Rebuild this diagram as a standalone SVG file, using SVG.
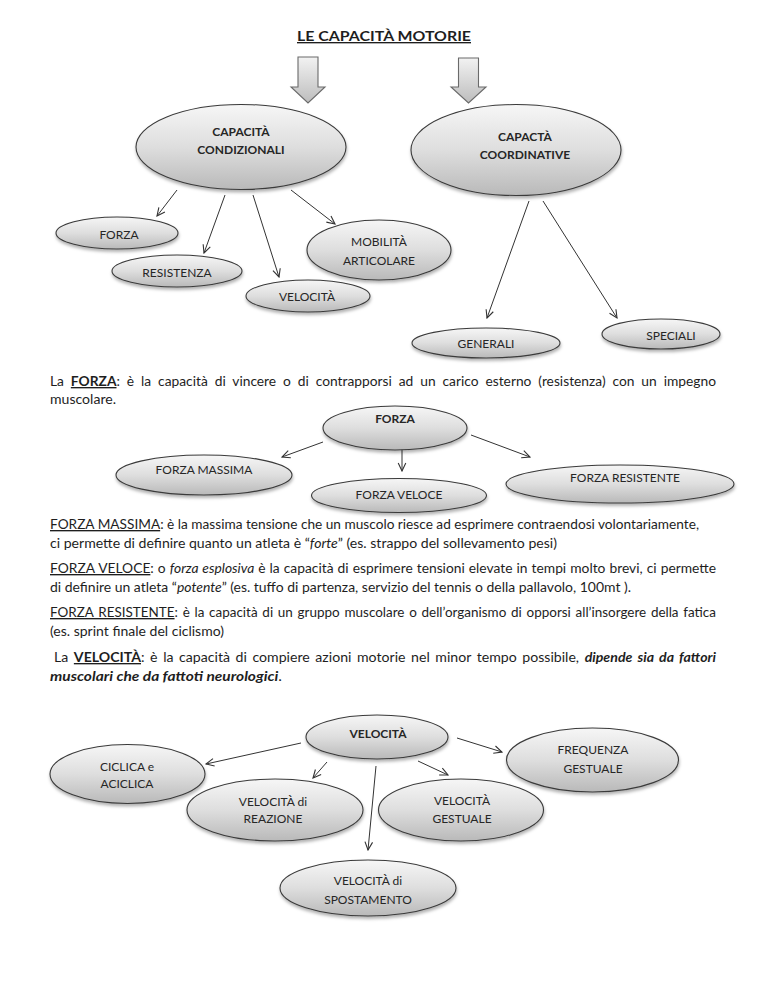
<svg xmlns="http://www.w3.org/2000/svg" width="768" height="994" viewBox="0 0 768 994">
<style>
.nd{fill:url(#g);stroke:#3a3a3a;stroke-width:1.1;filter:url(#sh)}
.lb{font-family:Lato,"Liberation Sans",sans-serif;font-size:12px;fill:#262626;text-anchor:middle}
.bd{font-weight:bold}
.cn line{stroke:#333;stroke-width:1;marker-end:url(#ah)}
.tx{font-family:Lato,"Liberation Sans",sans-serif;font-size:13.5px;fill:#1e1e1e}
.b{font-weight:bold}
.i{font-style:italic}
.u{text-decoration:underline}
.ba{fill:url(#ga);stroke:#6a6a6a;stroke-width:1.1}
</style>
<defs>
<linearGradient id="g" x1="0" y1="0" x2="0" y2="1">
<stop offset="0" stop-color="#f6f6f6"/>
<stop offset="0.5" stop-color="#dedede"/>
<stop offset="1" stop-color="#b9b9b9"/>
</linearGradient>
<linearGradient id="ga" x1="0" y1="0" x2="0" y2="1">
<stop offset="0" stop-color="#f2f2f2"/>
<stop offset="1" stop-color="#bdbdbd"/>
</linearGradient>
<filter id="sh" x="-20%" y="-20%" width="140%" height="160%">
<feDropShadow dx="0.5" dy="2.5" stdDeviation="1.8" flood-color="#000" flood-opacity="0.3"/>
</filter>
<marker id="ah" viewBox="0 0 10 10" refX="9" refY="5" markerWidth="10" markerHeight="10" markerUnits="userSpaceOnUse" orient="auto">
<path d="M1,1.2 L9,5 L1,8.8" fill="none" stroke="#333" stroke-width="1.1"/>
</marker>
</defs>
<rect width="768" height="994" fill="#fff"/>

<text class="tx b u" x="297" y="41" font-size="15" textLength="174" lengthAdjust="spacingAndGlyphs">LE CAPACITÀ MOTORIE</text>

<g id="blockarrows">
<path class="ba" d="M298,57 L318,57 L318,87 L325,87 L308,103 L291,87 L298,87 Z"/>
<path class="ba" d="M458.5,58 L478.5,58 L478.5,87 L486,87 L468.5,103 L451,87 L458.5,87 Z"/>
</g>

<g id="connectors" class="cn">
<line x1="177" y1="190" x2="157" y2="216"/>
<line x1="225" y1="195" x2="204" y2="253"/>
<line x1="253" y1="195" x2="279" y2="277"/>
<line x1="291" y1="190" x2="335" y2="224"/>
<line x1="529" y1="201" x2="487" y2="318"/>
<line x1="543" y1="201" x2="617" y2="318"/>
<line x1="323" y1="442" x2="282" y2="457"/>
<line x1="402" y1="440" x2="402" y2="471"/>
<line x1="471" y1="435" x2="530" y2="457"/>
<line x1="301" y1="743" x2="206" y2="764"/>
<line x1="327" y1="762" x2="313" y2="778"/>
<line x1="376" y1="766" x2="368" y2="850"/>
<line x1="418" y1="761" x2="448" y2="775"/>
<line x1="457" y1="738" x2="502" y2="752"/>
</g>

<g id="n-condizionali"><ellipse class="nd" cx="241" cy="147" rx="105" ry="42.5"/>
<text class="lb bd" x="241" y="136">CAPACITÀ</text><text class="lb bd" x="241" y="154">CONDIZIONALI</text></g>
<g id="n-coordinative"><ellipse class="nd" cx="516" cy="150" rx="105" ry="45.5"/>
<text class="lb bd" x="525" y="141">CAPACTÀ</text><text class="lb bd" x="525" y="159">COORDINATIVE</text></g>
<g id="n-forza1"><ellipse class="nd" cx="117" cy="233" rx="61" ry="16"/>
<text class="lb" x="119" y="239">FORZA</text></g>
<g id="n-resistenza"><ellipse class="nd" cx="177" cy="271" rx="65" ry="16"/>
<text class="lb" x="177" y="277">RESISTENZA</text></g>
<g id="n-velocita1"><ellipse class="nd" cx="308" cy="296" rx="62" ry="16"/>
<text class="lb" x="307" y="301">VELOCITÀ</text></g>
<g id="n-mobilita"><ellipse class="nd" cx="379" cy="250" rx="72" ry="30"/>
<text class="lb" x="379" y="246">MOBILITÀ</text><text class="lb" x="379" y="265">ARTICOLARE</text></g>
<g id="n-generali"><ellipse class="nd" cx="486" cy="343" rx="74" ry="15"/>
<text class="lb" x="486" y="348">GENERALI</text></g>
<g id="n-speciali"><ellipse class="nd" cx="661" cy="334" rx="59" ry="15"/>
<text class="lb" x="671" y="340">SPECIALI</text></g>

<g id="n-forza"><ellipse class="nd" cx="395" cy="428" rx="72" ry="22"/>
<text class="lb bd" x="395" y="423">FORZA</text></g>
<g id="n-fmassima"><ellipse class="nd" cx="204" cy="475" rx="88" ry="20"/>
<text class="lb" x="204" y="474">FORZA MASSIMA</text></g>
<g id="n-fveloce"><ellipse class="nd" cx="399" cy="495.5" rx="87.5" ry="17"/>
<text class="lb" x="399" y="499">FORZA VELOCE</text></g>
<g id="n-fresistente"><ellipse class="nd" cx="620" cy="484" rx="114" ry="19"/>
<text class="lb" x="625" y="482">FORZA RESISTENTE</text></g>

<g id="n-velocita"><ellipse class="nd" cx="377" cy="737" rx="71" ry="22"/>
<text class="lb bd" x="378" y="738">VELOCITÀ</text></g>
<g id="n-ciclica"><ellipse class="nd" cx="127.5" cy="774" rx="77.5" ry="29.5"/>
<text class="lb" x="127" y="771">CICLICA e</text><text class="lb" x="127" y="788">ACICLICA</text></g>
<g id="n-reazione"><ellipse class="nd" cx="275" cy="810" rx="88" ry="31"/>
<text class="lb" x="273" y="806">VELOCITÀ di</text><text class="lb" x="273" y="823">REAZIONE</text></g>
<g id="n-gestuale"><ellipse class="nd" cx="461" cy="810" rx="82.5" ry="31"/>
<text class="lb" x="462" y="805">VELOCITÀ</text><text class="lb" x="462" y="823">GESTUALE</text></g>
<g id="n-frequenza"><ellipse class="nd" cx="592.5" cy="760" rx="86" ry="32"/>
<text class="lb" x="593" y="754">FREQUENZA</text><text class="lb" x="593" y="773">GESTUALE</text></g>
<g id="n-spostamento"><ellipse class="nd" cx="368" cy="888" rx="88" ry="28"/>
<text class="lb" x="368" y="885">VELOCITÀ di</text><text class="lb" x="368" y="904">SPOSTAMENTO</text></g>

<g id="text">
<text class="tx" x="50" y="386" word-spacing="3.3" textLength="666" lengthAdjust="spacingAndGlyphs">La <tspan class="b u">FORZA</tspan>: è la capacità di vincere o di contrapporsi ad un carico esterno (resistenza) con un impegno</text>
<text class="tx" x="50" y="404" textLength="66" lengthAdjust="spacingAndGlyphs">muscolare.</text>
<text class="tx" x="50" y="529" textLength="649" lengthAdjust="spacingAndGlyphs"><tspan class="u">FORZA MASSIMA</tspan>: è la massima tensione che un muscolo riesce ad esprimere contraendosi volontariamente,</text>
<text class="tx" x="50" y="548" textLength="507" lengthAdjust="spacingAndGlyphs">ci permette di definire quanto un atleta è “<tspan class="i">forte</tspan>” (es. strappo del sollevamento pesi)</text>
<text class="tx" x="50" y="573" word-spacing="0.5" textLength="666" lengthAdjust="spacingAndGlyphs"><tspan class="u">FORZA VELOCE</tspan>: o <tspan class="i">forza esplosiva</tspan> è la capacità di esprimere tensioni elevate in tempi molto brevi, ci permette</text>
<text class="tx" x="50" y="592" textLength="581" lengthAdjust="spacingAndGlyphs">di definire un atleta “<tspan class="i">potente</tspan>” (es. tuffo di partenza, servizio del tennis o della pallavolo, 100mt ).</text>
<text class="tx" x="50" y="617" word-spacing="1.3" textLength="666" lengthAdjust="spacingAndGlyphs"><tspan class="u">FORZA RESISTENTE</tspan>: è la capacità di un gruppo muscolare o dell’organismo di opporsi all’insorgere della fatica</text>
<text class="tx" x="50" y="636" textLength="174" lengthAdjust="spacingAndGlyphs">(es. sprint finale del ciclismo)</text>
<text class="tx" x="54" y="662" word-spacing="1.9" textLength="662" lengthAdjust="spacingAndGlyphs">La <tspan class="b u">VELOCITÀ</tspan>: è la capacità di compiere azioni motorie nel minor tempo possibile, <tspan class="b i">dipende sia da fattori</tspan></text>
<text class="tx" x="50" y="681" textLength="232" lengthAdjust="spacingAndGlyphs"><tspan class="b i">muscolari che da fattoti neurologici</tspan>.</text>
</g>
</svg>
